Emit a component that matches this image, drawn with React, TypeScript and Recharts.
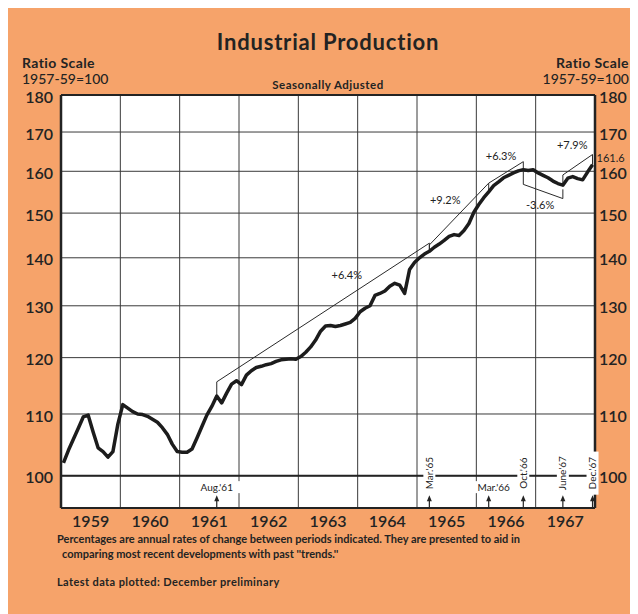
import React from 'react';
import {
  ComposedChart,
  Line,
  XAxis,
  YAxis,
  CartesianGrid,
  ReferenceLine,
  ReferenceDot,
} from 'recharts';

// monthly index, 1957-59=100, Jan 1959 .. Dec 1967
const years = ['1959', '1960', '1961', '1962', '1963', '1964', '1965', '1966', '1967'];

const production = [
  // 1959
  102.0, 104.0, 105.8, 107.6, 109.5, 109.8, 107.0, 104.4, 103.8, 102.9, 103.8, 108.3,
  // 1960
  111.6, 111.0, 110.4, 110.0, 109.9, 109.6, 109.1, 108.6, 107.7, 106.6, 105.0, 103.8,
  // 1961
  103.7, 103.7, 104.2, 106.0, 107.9, 109.8, 111.3, 113.1, 111.9, 113.6, 115.2, 115.8,
  // 1962
  115.1, 116.8, 117.6, 118.2, 118.4, 118.7, 118.9, 119.3, 119.6, 119.7, 119.8, 119.7,
  // 1963
  120.2, 121.0, 122.0, 123.3, 125.0, 126.0, 126.1, 125.9, 126.1, 126.4, 126.7, 127.5,
  // 1964
  128.8, 129.5, 130.0, 132.1, 132.5, 133.0, 134.0, 134.6, 134.2, 132.5, 137.5, 139.0,
  // 1965
  140.0, 140.8, 141.4, 142.3, 143.0, 143.8, 144.7, 145.1, 144.9, 146.0, 147.6, 150.2,
  // 1966
  152.0, 153.6, 155.0, 156.5, 157.4, 158.4, 159.0, 159.6, 160.1, 160.4, 160.2, 160.4,
  // 1967
  159.6, 159.0, 158.4, 157.6, 157.0, 156.6, 158.3, 158.7, 158.2, 157.9, 159.8, 161.6,
];

const yTicks = [100, 110, 120, 130, 140, 150, 160, 170, 180];

// trend brackets: [month, value] pairs (month 0 = start of 1959)
const trend1 = [[31.5, 113.1], [31.5, 115.6], [74.5, 143.2], [74.5, 141.7]];
const trend2 = [[74.5, 141.7], [74.5, 142.8], [86.5, 157.1], [86.5, 155.2]];
const trend3 = [[86.5, 157.1], [93.5, 162.4], [93.5, 160.4]];
const trend4 = [[93.5, 160.0], [93.5, 156.8], [101.5, 153.4], [101.5, 155.6]];
const trend5 = [[101.5, 156.6], [101.5, 159.1], [107.5, 164.2], [107.5, 161.6]];
const trends = [trend1, trend2, trend3, trend4, trend5];

const trendLabels = [
  { text: '+6.4%', m: 57.8, v: 136.4 },
  { text: '+9.2%', m: 77.7, v: 153.1 },
  { text: '+6.3%', m: 89.0, v: 163.9 },
  { text: '-3.6%', m: 96.9, v: 151.9 },
  { text: '+7.9%', m: 103.4, v: 166.7 },
];

const events = [
  { text: "Aug.'61", m: 31.5, vertical: false },
  { text: "Mar.'65", m: 74.5, vertical: true },
  { text: "Mar.'66", m: 86.5, vertical: false },
  { text: "Oct.'66", m: 93.5, vertical: true },
  { text: "June'67", m: 101.5, vertical: true },
  { text: "Dec.'67", m: 107.5, vertical: true },
];

const latest = { text: '161.6', m: 107.5, v: 163.4 };

const ORANGE = '#f6a36a';
const INK = '#232323';
const FONT = 'Lato, "Open Sans", sans-serif';

const table = production.map((v, i) => ({ m: i + 0.5, v }));
const yearStarts = years.slice(1).map((_, i) => (i + 1) * 12);
const yearMids = years.map((_, i) => i * 12 + 6);

const eventShape = (ev: { text: string; vertical: boolean }) => (props: any) => {
  const { cx, cy } = props;
  const len = ev.text.length * 5.3;
  return (
    <g>
      <line x1={cx} y1={cy + 2} x2={cx} y2={cy + 12} stroke={INK} strokeWidth={1.2} />
      <polygon points={`${cx - 2.5},${cy + 5} ${cx + 2.5},${cy + 5} ${cx},${cy - 1}`} fill={INK} />
      {ev.vertical ? (
        <g transform={`translate(${cx},${cy - 23}) rotate(-90)`}>
          <rect x={-len / 2 - 3} y={-6} width={len + 6} height={12} fill="#fff" />
          <text x={0} y={3.5} textAnchor="middle" fontSize={10} fill={INK} fontFamily={FONT}>
            {ev.text}
          </text>
        </g>
      ) : (
        <g>
          <rect x={cx + 4 - len / 2 - 2} y={cy - 15} width={len + 4} height={12} fill="#fff" />
          <text x={cx + (ev.text.startsWith('Mar') ? 5 : 0)} y={cy - 5.5} textAnchor="middle" fontSize={10} fill={INK} fontFamily={FONT}>
            {ev.text}
          </text>
        </g>
      )}
    </g>
  );
};

const textShape = (text: string, size: number, anchor: string, dx: number) => (props: any) => (
  <text
    x={props.cx + dx}
    y={props.cy}
    dy="0.35em"
    textAnchor={anchor}
    fontSize={size}
    fill={INK}
    fontFamily={FONT}
  >
    {text}
  </text>
);

export default function App() {
  const tickStyle = { fill: INK, fontSize: 16, fontWeight: 600, fontFamily: FONT };
  const yTickStyle = { ...tickStyle, dy: 2 };
  return (
    <div style={{ position: 'relative', width: 630, height: 606, background: ORANGE }}>
      <ComposedChart
        width={630}
        height={606}
        data={table}
        margin={{ top: 87, right: 0, bottom: 76, left: 0 }}
      >
        <CartesianGrid yAxisId="left" vertical={false} stroke="#3a3a3a" strokeWidth={1} fill="#fff" />
        <XAxis
          dataKey="m"
          type="number"
          domain={[0, 108]}
          ticks={yearMids}
          tickFormatter={(t: number) => years[Math.floor(t / 12)]}
          height={30}
          tickLine={false}
          tickSize={6}
          tickMargin={2}
          axisLine={{ stroke: INK, strokeWidth: 2 }}
          tick={tickStyle}
          interval={0}
        />
        <YAxis
          yAxisId="left"
          scale="log"
          domain={[95.14, 180]}
          allowDataOverflow
          ticks={yTicks}
          width={53}
          tickLine={false}
          axisLine={{ stroke: INK, strokeWidth: 2.5 }}
          tick={yTickStyle}
          interval={0}
        />
        <YAxis
          yAxisId="right"
          orientation="right"
          scale="log"
          domain={[95.14, 180]}
          allowDataOverflow
          ticks={yTicks}
          width={43}
          tickLine={false}
          tickSize={2}
          axisLine={{ stroke: INK, strokeWidth: 2.5 }}
          tick={yTickStyle}
          interval={0}
        />
        {yearStarts.map((x) => (
          <ReferenceLine key={`yr-${x}`} yAxisId="left" x={x} stroke="#3a3a3a" strokeWidth={1} />
        ))}
        <ReferenceLine yAxisId="left" y={180} stroke={INK} strokeWidth={2} />
        <ReferenceLine yAxisId="left" y={100} stroke={INK} strokeWidth={2.2} />
        {trends.map((seg, i) => (
          <Line
            key={`trend-${i}`}
            yAxisId="left"
            data={seg.map(([m, v]) => ({ m, v }))}
            dataKey="v"
            type="linear"
            stroke="#2a2a2a"
            strokeWidth={1}
            dot={false}
            activeDot={false}
            isAnimationActive={false}
          />
        ))}
        <Line
          yAxisId="left"
          dataKey="v"
          type="linear"
          stroke="#1c1c1c"
          strokeWidth={3.5}
          strokeLinejoin="round"
          dot={false}
          activeDot={false}
          isAnimationActive={false}
        />
        {trendLabels.map((l) => (
          <ReferenceDot
            key={l.text}
            yAxisId="left"
            x={l.m}
            y={l.v}
            r={0}
            shape={textShape(l.text, 11, 'middle', 0)}
          />
        ))}
        {events.map((ev) => (
          <ReferenceDot
            key={ev.text}
            yAxisId="left"
            x={ev.m}
            y={96.9}
            r={0}
            shape={eventShape(ev)}
          />
        ))}
        <ReferenceDot
          yAxisId="left"
          x={latest.m}
          y={latest.v}
          r={0}
          shape={textShape(latest.text, 11, 'start', 4)}
        />
      </ComposedChart>
      <svg
        width={630}
        height={606}
        style={{ position: 'absolute', left: 0, top: 0, pointerEvents: 'none' }}
        fontFamily={FONT}
        fill={INK}
      >
        <text x={320} y={42} textAnchor="middle" fontSize={22} fontWeight={700} letterSpacing={0.8}>
          Industrial Production
        </text>
        <text x={14} y={60} fontSize={14} fontWeight={700} letterSpacing={0.4}>Ratio Scale</text>
        <text x={14} y={76} fontSize={14} fontWeight={500}>1957-59=100</text>
        <text x={621} y={60} textAnchor="end" fontSize={14} fontWeight={700} letterSpacing={0.4}>Ratio Scale</text>
        <text x={621} y={76} textAnchor="end" fontSize={14} fontWeight={500}>1957-59=100</text>
        <text x={320} y={81} textAnchor="middle" fontSize={11.5} fontWeight={700} letterSpacing={0.5}>Seasonally Adjusted</text>
        <text x={49} y={535} fontSize={11} fontWeight={700}>
          Percentages are annual rates of change between periods indicated. They are presented to aid in
        </text>
        <text x={54} y={550} fontSize={11} fontWeight={700}>
          comparing most recent developments with past ''trends.''
        </text>
        <text x={49} y={578} fontSize={11} fontWeight={700} letterSpacing={0.4}>
          Latest data plotted: December preliminary
        </text>
      </svg>
    </div>
  );
}
